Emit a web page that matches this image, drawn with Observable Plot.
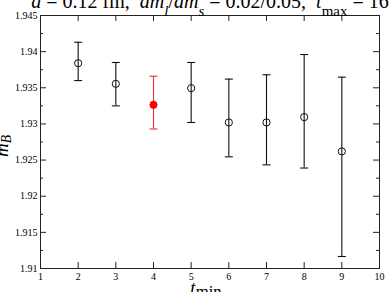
<!DOCTYPE html>
<html><head><meta charset="utf-8">
<script src="https://cdn.jsdelivr.net/npm/d3@7"></script>
<script src="https://cdn.jsdelivr.net/npm/@observablehq/plot@0.6"></script>
<style>body{margin:0;background:#fff;overflow:hidden}#c{width:390px;height:292px;overflow:hidden}</style>
</head><body><div id="c"></div>
<script>
const tmin = [2, 3, 4, 5, 6, 7, 8, 9];
const mB = [1.9384, 1.93555, 1.93264, 1.93495, 1.9302, 1.9302, 1.93094, 1.9262];
const mBlo = [1.9360, 1.9325, 1.9293, 1.9302, 1.92545, 1.92434, 1.9239, 1.91166];
const mBhi = [1.9413, 1.9385, 1.9366, 1.9385, 1.9362, 1.9368, 1.9396, 1.93647];
const highlighted = [false, false, true, false, false, false, false, false];
const xTicks = [1, 2, 3, 4, 5, 6, 7, 8, 9, 10];
const yTicks = [1.91, 1.915, 1.92, 1.925, 1.93, 1.935, 1.94, 1.945];
const yMinor = [1.9125, 1.9175, 1.9225, 1.9275, 1.9325, 1.9375, 1.9425];

const data = tmin.map((t, i) => ({t, m: mB[i], lo: mBlo[i], hi: mBhi[i], red: highlighted[i]}));
const caps = data.flatMap(d => [{t: d.t, v: d.lo, red: d.red}, {t: d.t, v: d.hi, red: d.red}]);
const W = 390, H = 292, mL = 40, mR = 11, mT = 15, mBt = 24;
const pw = W - mL - mR, ph = H - mT - mBt;
const font = "'Liberation Serif', serif";
const capSymbol = {draw(ctx, size) { const w = Math.sqrt(size / Math.PI); ctx.moveTo(-w, 0); ctx.lineTo(w, 0); }};
const col = d => d.red ? "#e83030" : "#111";

const chart = Plot.plot({
  width: W, height: H,
  marginLeft: mL, marginRight: mR, marginTop: mT, marginBottom: mBt,
  style: {fontFamily: font, fontSize: "10px", background: "white", overflow: "visible"},
  x: {type: "linear", domain: [1, 10]},
  y: {type: "linear", domain: [1.91, 1.945]},
  marks: [
    Plot.frame({stroke: "#222", strokeWidth: 1}),
    Plot.axisX(xTicks, {anchor: "bottom", tickSize: 0, tickPadding: 4, fontSize: 10, label: null, tickFormat: d => String(d)}),
    Plot.axisY(yTicks, {anchor: "left", tickSize: 0, tickPadding: 3, fontSize: 10, label: null, tickFormat: d => String(+d.toFixed(3))}),
    Plot.tickX(xTicks, {x: d => d, insetTop: ph - 6, stroke: "#222"}),
    Plot.tickX(xTicks, {x: d => d, insetBottom: ph - 6, stroke: "#222"}),
    Plot.tickY(yTicks, {y: d => d, insetRight: pw - 6, stroke: "#222"}),
    Plot.tickY(yTicks, {y: d => d, insetLeft: pw - 6, stroke: "#222"}),
    Plot.tickY(yMinor, {y: d => d, insetRight: pw - 3, stroke: "#222"}),
    Plot.tickY(yMinor, {y: d => d, insetLeft: pw - 3, stroke: "#222"}),
    Plot.ruleX(data, {x: "t", y1: "lo", y2: "hi", stroke: col, strokeWidth: 1.1}),
    Plot.dot(caps, {x: "t", y: "v", symbol: capSymbol, r: 4, stroke: col, fill: "none", strokeWidth: 1.1}),
    Plot.dot(data, {x: "t", y: "m", r: 3.6, stroke: d => d.red ? "red" : "#111", fill: d => d.red ? "red" : "none", strokeWidth: 1}),
    Plot.text(["title"], {frameAnchor: "top", text: d => d, dy: -8, lineAnchor: "bottom", fontSize: 20, ariaLabel: () => "ttl"}),
    Plot.text(["ylab"], {frameAnchor: "left", text: d => d, dx: -33, dy: 4, rotate: -90, lineAnchor: "bottom", textAnchor: "middle", fontSize: 19, ariaLabel: () => "ylab"}),
    Plot.text(["xlab"], {frameAnchor: "bottom", text: d => d, dx: -4, dy: 25, lineAnchor: "bottom", fontSize: 19, ariaLabel: () => "xlab"})
  ]
});
document.getElementById("c").appendChild(chart);
const svg = d3.select(chart);

function setRich(label, parts, shift, size) {
  const t = svg.select(`text[aria-label='${label}']`);
  t.text(null);
  parts.forEach(p => {
    const ts = t.append("tspan").text(p.s);
    if (p.i) ts.attr("font-style", "italic");
    if (p.sub) ts.attr("baseline-shift", shift).attr("font-size", size);
  });
}
setRich("ttl", [
  {s: "a", i: 1}, {s: " = 0.12 fm,  "}, {s: "am", i: 1}, {s: "l", i: 1, sub: 1}, {s: "/"}, {s: "am", i: 1}, {s: "s", i: 1, sub: 1},
  {s: " = 0.02/0.05,  "}, {s: "t", i: 1}, {s: "max", sub: 1}, {s: " = 16"}
], "sub", "0.75em");
setRich("ylab", [{s: "m", i: 1}, {s: "B", i: 1, sub: 1}], "-20%", "0.72em");
setRich("xlab", [{s: "t", i: 1}, {s: "min", sub: 1}], "-15%", "0.88em");
svg.selectAll("text").attr("font-family", font);
</script>
</body></html>
